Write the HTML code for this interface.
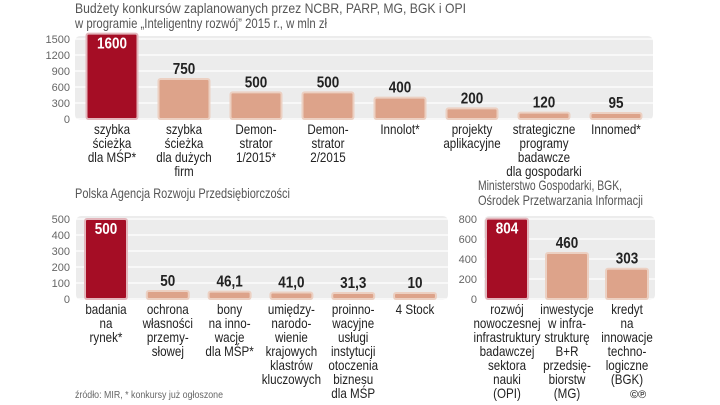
<!DOCTYPE html>
<html><head><meta charset="utf-8"><style>
html,body{margin:0;padding:0;background:#fff;}
svg{display:block;font-family:"Liberation Sans Narrow","Liberation Sans",sans-serif;}
.t{fill:#555;font-size:14px;}
.ax{fill:#666;font-size:11px;}
.cat{fill:#222;font-size:13.5px;}
.val{font-weight:bold;font-size:15px;fill:#222;}
</style></head><body>
<svg id="c" width="720" height="405" viewBox="0 0 720 405">
<text class="t" x="75" y="13" textLength="391" lengthAdjust="spacingAndGlyphs">Budżety konkursów zaplanowanych przez NCBR, PARP, MG, BGK i OPI</text>
<text class="t" x="75" y="28" textLength="252" lengthAdjust="spacingAndGlyphs">w programie „Inteligentny rozwój” 2015 r., w mln zł</text>
<text class="t" x="75" y="198" textLength="215" lengthAdjust="spacingAndGlyphs">Polska Agencja Rozwoju Przedsiębiorczości</text>
<text class="t" x="478" y="190" textLength="144" lengthAdjust="spacingAndGlyphs">Ministerstwo Gospodarki, BGK,</text>
<text class="t" x="478" y="205" textLength="165" lengthAdjust="spacingAndGlyphs">Ośrodek Przetwarzania Informacji</text>
<text x="75" y="398" textLength="148" lengthAdjust="spacingAndGlyphs" style="fill:#666;font-size:10px">źródło: MIR, * konkursy już ogłoszone</text>
<text x="630" y="398" style="fill:#444;font-size:11px;font-weight:bold">©℗</text>
</svg>
<script>
const cats1=[["szybka","ścieżka","dla MŚP*"],["szybka","ścieżka","dla dużych","firm"],["Demon-","strator","1/2015*"],["Demon-","strator","2/2015"],["Innolot*"],["projekty","aplikacyjne"],["strategiczne","programy","badawcze","dla gospodarki"],["Innomed*"]];
const vals1=[1600,750,500,500,400,200,120,95];
const labels1=["1600","750","500","500","400","200","120","95"];
const ticks1=[0,300,600,900,1200,1500];
const cats2=[["badania","na","rynek*"],["ochrona","własności","przemy-","słowej"],["bony","na inno-","wacje","dla MŚP*"],["umiędzy-","narodo-","wienie","krajowych","klastrów","kluczowych"],["proinno-","wacyjne","usługi","instytucji","otoczenia","biznesu","dla MŚP"],["4 Stock"]];
const vals2=[500,50,46.1,41.0,31.3,10];
const labels2=["500","50","46,1","41,0","31,3","10"];
const ticks2=[0,100,200,300,400,500];
const cats3=[["rozwój","nowoczesnej","infrastruktury","badawczej","sektora","nauki","(OPI)"],["inwestycje","w infra-","strukturę","B+R","przedsię-","biorstw","(MG)"],["kredyt","na","innowacje","techno-","logiczne","(BGK)"]];
const vals3=[804,460,303];
const labels3=["804","460","303"];
const ticks3=[0,200,400,600,800];

const NS="http://www.w3.org/2000/svg";
const svg=document.getElementById('c');
function mk(tag,attrs,parent){const e=document.createElementNS(NS,tag);for(const k in attrs)e.setAttribute(k,attrs[k]);(parent||svg).appendChild(e);return e;}

function chart(o){
  const g=mk('g',{});
  
  
  const y=v=>o.y0-(v/o.max)*(o.y0-o.y1);
  const bg=mk('rect',{x:o.px0,y:o.y1-3,width:o.px1-o.px0,height:o.y0-o.y1+4,rx:5,fill:'#ececec'},g);
  
  
  o.ticks.forEach(t=>{
    const l=mk('line',{x1:o.px0,x2:o.px1,y1:y(t),y2:y(t),stroke:'#fff','stroke-width':1.2},g);
    
    
    const tx=mk('text',{x:o.axX,y:y(t)+4,'text-anchor':'end',class:'ax'},g);
    tx.textContent=t;
    
    
  });
  o.vals.forEach((v,i)=>{
    const cx=o.c0+i*o.step;
    const top=Math.min(y(v),o.y0-6);
    const first=i===0;
    const r=mk('rect',{x:cx-o.bw/2,y:top,width:o.bw,height:o.y0-top,rx:2,fill:first?'#a50d25':'#dda38a',stroke:first?'#e3b6bc':'#ecd0c2','stroke-width':2},g);
    
    
    const vt=mk('text',{transform:'translate('+cx+','+(first?top+15:top-5)+') scale(0.9,1.05)','text-anchor':'middle',class:'val'},g);
    if(first)vt.style.fill='#fff';
    vt.textContent=o.labels[i];
    
    
    o.cats[i].forEach((line,j)=>{
      const ct=mk('text',{transform:'translate('+cx+','+(o.y0+15+j*14)+') scale(0.86,1)','text-anchor':'middle',class:'cat'},g);
      ct.textContent=line;
      
      
    });
  });
}
chart({name:'ir-chart',vals:vals1,labels:labels1,cats:cats1,ticks:ticks1,max:1500,y0:119,y1:39,px0:75,px1:653,axX:70,c0:112,step:72,bw:51});
chart({name:'parp-chart',vals:vals2,labels:labels2,cats:cats2,ticks:ticks2,max:500,y0:299,y1:219,px0:76,px1:448,axX:70,c0:106,step:61.8,bw:42});
chart({name:'mg-chart',vals:vals3,labels:labels3,cats:cats3,ticks:ticks3,max:800,y0:299,y1:219,px0:484,px1:655,axX:477,c0:507,step:60,bw:42});
</script>
</body></html>
